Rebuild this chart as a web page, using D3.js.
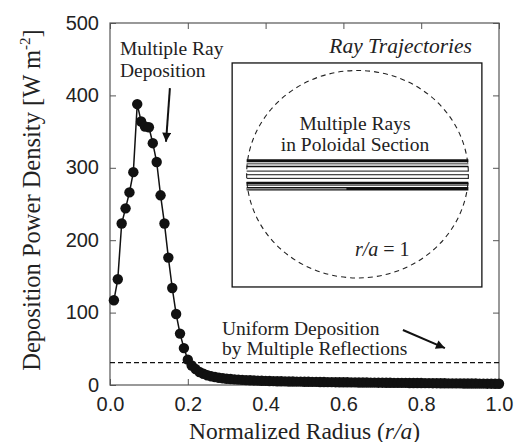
<!DOCTYPE html>
<html><head><meta charset="utf-8">
<script src="https://cdn.jsdelivr.net/npm/d3@7"></script>
<style>body{margin:0;background:#fff}</style>
</head><body><svg id="c" width="521" height="442"></svg>
<script>
// ---- data ----
const radius = [0.01,0.02,0.03,0.04,0.05,0.06,0.07,0.08,0.09,0.10,
  0.11,0.12,0.13,0.14,0.15,0.16,0.17,0.18,0.19,0.20,
  0.21,0.22,0.23,0.24,0.25,0.26,0.27,0.28,0.29,0.30,
  0.31,0.32,0.33,0.34,0.35,0.36,0.37,0.38,0.39,0.40,
  0.41,0.42,0.43,0.44,0.45,0.46,0.47,0.48,0.49,0.50,
  0.51,0.52,0.53,0.54,0.55,0.56,0.57,0.58,0.59,0.60,
  0.61,0.62,0.63,0.64,0.65,0.66,0.67,0.68,0.69,0.70,
  0.71,0.72,0.73,0.74,0.75,0.76,0.77,0.78,0.79,0.80,
  0.81,0.82,0.83,0.84,0.85,0.86,0.87,0.88,0.89,0.90,
  0.91,0.92,0.93,0.94,0.95,0.96,0.97,0.98,0.99,1.00];
const power = [117,146,223,244,266,294,388,364,357,356,
  334,308,262,223,176,134,98,71,51,35,
  27,22,18,15.5,13.5,12,11,10,9.3,8.7,
  8.2,7.8,7.4,7.1,6.8,6.5,6.3,6.1,5.9,5.7,
  5.5,5.4,5.2,5.1,5.0,4.9,4.8,4.7,4.6,4.5,
  4.4,4.3,4.3,4.2,4.1,4.0,4.0,3.9,3.8,3.8,
  3.7,3.6,3.6,3.5,3.5,3.4,3.3,3.3,3.2,3.2,
  3.1,3.1,3.0,3.0,2.9,2.9,2.8,2.8,2.7,2.7,
  2.6,2.6,2.5,2.5,2.4,2.4,2.3,2.3,2.2,2.2,
  2.1,2.1,2.0,2.0,1.9,1.9,1.8,1.8,1.7,1.7];
const uniformLevel = 31;
const xTicks = [0, 0.2, 0.4, 0.6, 0.8, 1.0];
const yTicks = [0, 100, 200, 300, 400, 500];
// ray heights in poloidal section (z/a)
const rayOffsets = [0.13, 0.10, 0.075, 0.03, -0.005, -0.04, -0.085, -0.105, -0.14];

// ---- styles ----
const rayWidths = [3, 1.5, 1.5, 1, 1, 1, 2.5, 1, 3.5];
const rayColors = ["#111","#777","#111","#111","#111","#111","#111","#111","#111"];
const serif = "'Liberation Serif', 'Times New Roman', serif";
const sans = "'Liberation Sans', Arial, sans-serif";

const margin = {left:110, top:23, right:22, bottom:57};
const W = 521, H = 442;
const pw = W - margin.left - margin.right, ph = H - margin.top - margin.bottom;

const svg = d3.select("#c");
const g = svg.append("g").attr("transform", `translate(${margin.left},${margin.top})`);

const x = d3.scaleLinear().domain([0,1]).range([0,pw]);
const y = d3.scaleLinear().domain([0,500]).range([ph,0]);

// axes
const axB = g.append("g").attr("transform",`translate(0,${ph})`)
  .call(d3.axisBottom(x).tickValues(xTicks).tickFormat(d3.format(".1f")).tickSizeInner(-6).tickSizeOuter(0).tickPadding(12));
const axL = g.append("g")
  .call(d3.axisLeft(y).tickValues(yTicks).tickFormat(d3.format("d")).tickSizeInner(-6).tickSizeOuter(0).tickPadding(11));
const axT = g.append("g")
  .call(d3.axisTop(x).tickValues(xTicks).tickFormat("").tickSizeInner(-6).tickSizeOuter(0));
const axR = g.append("g").attr("transform",`translate(${pw},0)`)
  .call(d3.axisRight(y).tickValues(yTicks).tickFormat("").tickSizeInner(-6).tickSizeOuter(0));
[axB,axL,axT,axR].forEach(a=>{
  a.select(".domain").remove();
  a.selectAll("line").attr("stroke","#555").attr("stroke-width",1);
  a.selectAll("text").attr("font-family",sans).attr("font-size",20).attr("fill","#222");
});
axL.selectAll("text").attr("dy","0.3em");

g.append("rect").attr("x",0).attr("y",0).attr("width",pw).attr("height",ph)
  .attr("fill","none").attr("stroke","#555").attr("stroke-width",1.2);

// uniform deposition line
g.append("line").attr("x1",x(0)).attr("x2",x(1)).attr("y1",y(uniformLevel)).attr("y2",y(uniformLevel))
  .attr("stroke","#111").attr("stroke-width",1.3).attr("stroke-dasharray","5,3");

// data
const pts = radius.map((r,i)=>({r, v:power[i]}));
g.append("path").datum(pts)
  .attr("d", d3.line().x(d=>x(d.r)).y(d=>y(d.v)))
  .attr("fill","none").attr("stroke","#111").attr("stroke-width",1.5);
g.selectAll("circle.pt").data(pts).enter().append("circle").attr("class","pt")
  .attr("cx",d=>x(d.r)).attr("cy",d=>y(d.v)).attr("r",5.2).attr("fill","#111");

// arrows
const defs = svg.append("defs");
defs.append("marker").attr("id","ah").attr("viewBox","0 0 10 10").attr("refX",10).attr("refY",5)
  .attr("markerWidth",12).attr("markerHeight",9).attr("markerUnits","userSpaceOnUse").attr("orient","auto")
  .append("path").attr("d","M0,0 L10,5 L0,10 Z").attr("fill","#111");
function arrow(r1,v1,r2,v2){
  g.append("line").attr("x1",x(r1)).attr("y1",y(v1)).attr("x2",x(r2)).attr("y2",y(v2))
   .attr("stroke","#111").attr("stroke-width",2).attr("marker-end","url(#ah)");
}
arrow(0.154, 410, 0.144, 336);
arrow(0.753, 76, 0.861, 51);

// annotations
function txt(px,py,s,opt={}){
  return svg.append("text").attr("x",px).attr("y",py).text(s)
    .attr("font-family",serif).attr("font-size",opt.size||19.5).attr("fill","#222")
    .attr("text-anchor",opt.anchor||"start").attr("font-style",opt.italic?"italic":"normal");
}
txt(120,55,"Multiple Ray");
txt(120,77,"Deposition");
txt(222,335,"Uniform Deposition");
txt(222,355,"by Multiple Reflections");
txt(472,53,"Ray Trajectories",{italic:true,anchor:"end",size:21.5});

// inset
const ix0 = x(0.314), ix1 = x(0.956), iy0 = y(444.8), iy1 = y(135.4);
const inset = g.append("g");
inset.append("rect").attr("x",ix0).attr("y",iy0).attr("width",ix1-ix0).attr("height",iy1-iy0)
  .attr("fill","#fff").attr("stroke","#111").attr("stroke-width",1.3);
const sx = d3.scaleLinear().domain([-1,1]).range([ix0+14.5, ix1-13.5]);
const sz = d3.scaleLinear().domain([-1,1]).range([iy1-9, iy0+7.5]);
inset.append("ellipse").attr("cx",sx(0)).attr("cy",sz(0))
  .attr("rx",(sx(1)-sx(-1))/2).attr("ry",(sz(-1)-sz(1))/2)
  .attr("fill","none").attr("stroke","#222").attr("stroke-width",1.1).attr("stroke-dasharray","5,4");
inset.selectAll("line.ray").data(rayOffsets).enter().append("line").attr("class","ray")
  .attr("x1",sx(-1)).attr("x2",sx(1)).attr("y1",d=>sz(d)).attr("y2",d=>sz(d))
  .attr("stroke",(d,i)=>rayColors[i]).attr("stroke-width",(d,i)=>rayWidths[i]);
inset.append("line").attr("x1",sx(-1)).attr("x2",sx(-0.1)).attr("y1",sz(-0.14)).attr("y2",sz(-0.14))
  .attr("stroke","#888").attr("stroke-width",1.5);
txt(355,130,"Multiple Rays",{anchor:"middle"});
txt(355,151,"in Poloidal Section",{anchor:"middle"});
const ra = svg.append("text").attr("x",355).attr("y",256).attr("font-family",serif).attr("font-size",20).attr("fill","#222");
ra.append("tspan").attr("font-style","italic").text("r/a");
ra.append("tspan").text(" = 1");

// axis titles
const xt = svg.append("text").attr("x",margin.left+pw/2).attr("y",438.5).attr("text-anchor","middle")
  .attr("font-family",serif).attr("font-size",23.5).attr("fill","#222");
xt.append("tspan").text("Normalized Radius (");
xt.append("tspan").attr("font-style","italic").text("r/a");
xt.append("tspan").text(")");

const yt = svg.append("text").attr("transform","translate(40,200) rotate(-90)").attr("text-anchor","middle")
  .attr("font-family",serif).attr("font-size",24.5).attr("fill","#222");
yt.append("tspan").text("Deposition Power Density [W m");
yt.append("tspan").attr("font-size",15).attr("dy",-10).text("-2");
yt.append("tspan").attr("dy",10).text("]");
</script></body></html>
